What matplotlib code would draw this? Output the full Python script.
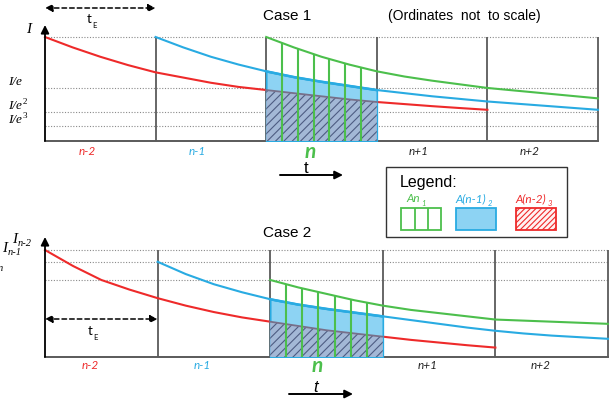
import numpy as np
import matplotlib
matplotlib.use('Agg')
import matplotlib.pyplot as plt
from matplotlib.patches import Rectangle

# ---- data (ordinates: top level I = 1, not to scale) ----
periods = ['n-2', 'n-1', 'n', 'n+1', 'n+2']
period_colors = ['#ee2a2a', '#29abe2', '#4cbf4c', '#222222', '#222222']

# values read every quarter period
q4 = [0, 0.25, 0.5, 0.75, 1, 1.25, 1.5, 1.75, 2, 2.25, 2.5, 2.75, 3, 3.25, 3.5, 3.75, 4]
q3 = [0, 0.25, 0.5, 0.75, 1, 1.25, 1.5, 1.75, 2, 2.25, 2.5, 2.75, 3]

# case 1
c1_red_t = q4
c1_red = [1.0, 0.90, 0.81, 0.73, 0.66, 0.61, 0.56, 0.52, 0.49, 0.46, 0.43, 0.40, 0.375,
          0.355, 0.335, 0.317, 0.30]
c1_blue_t = [t + 1 for t in q4]
c1_blue = [1.0, 0.90, 0.81, 0.735, 0.67, 0.615, 0.57, 0.53, 0.49, 0.46, 0.43, 0.405, 0.38,
           0.36, 0.34, 0.32, 0.30]
c1_green_t = [t + 2 for t in q3]
c1_green = [1.0, 0.90, 0.81, 0.735, 0.67, 0.62, 0.58, 0.545, 0.51, 0.485, 0.46, 0.435, 0.41]
c1_levels = [1.0, 0.508, 0.28, 0.145]
c1_level_text = ['I', 'I/e', 'I/e', 'I/e']
c1_level_sup = ['', '', '2', '3']

# case 2
c2_red_t = q4
c2_red = [1.0, 0.85, 0.72, 0.63, 0.55, 0.48, 0.42, 0.37, 0.33, 0.29, 0.25, 0.22, 0.19,
          0.16, 0.135, 0.11, 0.088]
c2_blue_t = [t + 1 for t in q4]
c2_blue = [0.89, 0.775, 0.68, 0.605, 0.54, 0.49, 0.45, 0.415, 0.38, 0.345, 0.31, 0.275,
           0.245, 0.22, 0.20, 0.185, 0.17]
c2_green_t = [t + 2 for t in q3]
c2_green = [0.72, 0.65, 0.59, 0.53, 0.48, 0.44, 0.41, 0.38, 0.35, 0.34, 0.33, 0.32, 0.31]
c2_levels = [1.0, 0.89, 0.72]
c2_level_sub = ['n-2', 'n-1', 'n']

legend_text = ['An', 'A(n-1)', 'A(n-2)']
legend_sub = ['1', '2', '3']

RED, BLUE, GREEN = '#ee2a2a', '#29abe2', '#4cbf4c'
GRID = '#8a8a8a'
BOUND = '#5a5a5a'
SANS = 'Liberation Sans'
ITAL = 'Lato'
SERIF = 'Liberation Serif'

plt.rcParams['hatch.linewidth'] = 0.8

fig = plt.figure(figsize=(6.1, 4.04), dpi=100)
W, H = 610, 404


def add_case_axes(left, right, bottom, top, top_level_px):
    ax = fig.add_axes([left / W, 1 - bottom / H, (right - left) / W, (bottom - top) / H])
    ax.set_xlim(0, 5)
    ax.set_ylim(0, (bottom - top) / (bottom - top_level_px))
    ax.set_axis_off()
    return ax


def draw_case(ax, red_t, red, blue_t, blue, green_t, green, levels, lab_off, lab_dy, n_dy):
    # dotted levels
    for lv in levels:
        ax.plot([0, 5], [lv, lv], color=GRID, lw=0.8, ls=(0, (1, 1.5)), zorder=1, clip_on=False)
    # period boundaries + baseline
    ax.vlines(range(1, 6), 0, 1.0, color=BOUND, lw=1.3, zorder=2, clip_on=False)
    ax.plot([0, 5], [0, 0], color=BOUND, lw=1.4, zorder=2, clip_on=False)
    ax.annotate('', xy=(0, ax.get_ylim()[1]), xytext=(0, 0),
                arrowprops=dict(arrowstyle='-|>', color='k', lw=1.3, mutation_scale=12,
                                shrinkA=0, shrinkB=0), zorder=8)
    # curves
    ax.plot(red_t, red, color=RED, lw=1.5, zorder=3, clip_on=False)
    ax.plot(blue_t, blue, color=BLUE, lw=1.5, zorder=6, clip_on=False)
    ax.plot(green_t, green, color=GREEN, lw=1.5, zorder=7, clip_on=False)
    # period n areas
    tn = np.linspace(2, 3, 41)
    b = np.interp(tn, blue_t, blue)
    r = np.interp(tn, red_t, red)
    ax.fill_between(tn, 0, b, facecolor='#8dd3f3', edgecolor=BLUE, lw=1.2, zorder=4)
    ax.fill_between(tn, 0, r, facecolor='#a3b8d6', edgecolor='#4e5d82', hatch='////', lw=0, zorder=5)
    ax.plot(tn, r, color='#77708a', lw=1.3, zorder=5.5)
    ax.plot(tn, b, color=BLUE, lw=1.8, zorder=6)
    gx = 2 + np.arange(1, 7) / 7
    ax.vlines(gx, 0, np.interp(gx, green_t, green), color=GREEN, lw=1.5, zorder=7)
    # period labels
    for k, (lab, col) in enumerate(zip(periods, period_colors)):
        if lab == 'n':
            ax.annotate(lab, xy=(k + lab_off + 0.02, 0), xytext=(0, -n_dy), textcoords='offset pixels',
                        ha='center', va='baseline', color=col, fontsize=15, fontweight='bold',
                        style='italic', family=ITAL)
        else:
            ax.annotate(lab, xy=(k + lab_off, 0), xytext=(0, -lab_dy), textcoords='offset pixels',
                        ha='center', va='baseline', color=col, fontsize=8.5, style='italic', family=ITAL)


# ---------------- Case 1 ----------------
ax1 = add_case_axes(45, 598, 141, 25, 37)
draw_case(ax1, c1_red_t, c1_red, c1_blue_t, c1_blue, c1_green_t, c1_green, c1_levels, 0.38, 14, 16.5)

for lv, txt, sup in zip(c1_levels, c1_level_text, c1_level_sup):
    if txt == 'I':
        ax1.annotate(txt, xy=(0, lv), xytext=(-16, 4), textcoords='offset pixels', ha='center',
                     va='baseline', fontsize=11, style='italic', family=SERIF)
    else:
        t = ax1.annotate(txt, xy=(0, lv), xytext=(-37, 3), textcoords='offset pixels', ha='left',
                         va='baseline', fontsize=9.5, style='italic', family=SERIF)
        if sup:
            ax1.annotate(sup, xy=(1, 1), xycoords=t, xytext=(0.5, 2), textcoords='offset pixels',
                         ha='left', va='top', fontsize=6.5, family=SERIF)

# ---------------- Case 2 ----------------
ax2 = add_case_axes(45, 608, 357, 237, 250)
draw_case(ax2, c2_red_t, c2_red, c2_blue_t, c2_blue, c2_green_t, c2_green, c2_levels, 0.4, 12, 15.5)

c2_label_off = [(-33, 7), (-43, 10), (-54, 12)]
for lv, sub, off in zip(c2_levels, c2_level_sub, c2_label_off):
    t = ax2.annotate('I', xy=(0, lv), xytext=off, textcoords='offset pixels', ha='left',
                     va='baseline', fontsize=11, style='italic', family=SERIF)
    ax2.annotate(sub, xy=(1, 0.2), xycoords=t, xytext=(1, 0), textcoords='offset pixels',
                 ha='left', va='center', fontsize=7.5, style='italic', family=SERIF)

# ---------------- overlay: titles, arrows, legend ----------------
ov = fig.add_axes([0, 0, 1, 1], zorder=10)
ov.set_xlim(0, W)
ov.set_ylim(H, 0)
ov.set_axis_off()

ov.text(287, 16, 'Case 1', ha='center', va='center', fontsize=11, family=SANS)
ov.text(388, 16, '(Ordinates  not  to scale)', ha='left', va='center', fontsize=10, family=SANS)
ov.text(287, 233, 'Case 2', ha='center', va='center', fontsize=11, family=SANS)

# t_E arrows (one period wide)
for ax, y, ly in [(ax1, 8, 19), (ax2, 319, 331)]:
    x0 = ax.transData.transform((0, 0))[0]
    x1 = ax.transData.transform((1, 0))[0]
    ov.annotate('', xy=(x1, y), xytext=(x0, y),
                xycoords=('figure pixels', 'data'), textcoords=('figure pixels', 'data'),
                arrowprops=dict(arrowstyle='<|-|>', color='k', lw=1.1, ls=(0, (3, 2)),
                                mutation_scale=11, shrinkA=0, shrinkB=0))
    t = ov.text((x0 + x1) / 2 - 11, ly, 't', ha='center', va='center', fontsize=9.5, family=ITAL)
    ov.annotate('E', xy=(1, 0), xycoords=t, xytext=(0.5, 0), textcoords='offset pixels',
                ha='left', va='center', fontsize=5.5, family=ITAL)

# time arrows
ov.annotate('', xy=(343, 175), xytext=(280, 175),
            arrowprops=dict(arrowstyle='-|>', color='k', lw=1.4, mutation_scale=12, shrinkA=0, shrinkB=0))
ov.text(306, 173, 't', ha='center', va='baseline', fontsize=12, family=SANS)
ov.annotate('', xy=(353, 394), xytext=(289, 394),
            arrowprops=dict(arrowstyle='-|>', color='k', lw=1.4, mutation_scale=12, shrinkA=0, shrinkB=0))
ov.text(316, 392.5, 't', ha='center', va='baseline', fontsize=12, style='italic', family=SANS)

# legend box
ov.add_patch(Rectangle((386, 167), 181, 70, fill=False, edgecolor='#333333', lw=1.0))
ov.text(400, 182, 'Legend:', ha='left', va='center', fontsize=11.5, family=SANS)
leg_cx = [413, 471, 531]
leg_cols = [GREEN, BLUE, RED]
for x, txt, sub, col in zip(leg_cx, legend_text, legend_sub, leg_cols):
    t = ov.text(x, 199, txt, ha='center', va='center', fontsize=8.5, style='italic',
                family=ITAL, color=col)
    ov.annotate(sub, xy=(1, 0.1), xycoords=t, xytext=(1, 0), textcoords='offset pixels',
                ha='left', va='center', fontsize=5.5, style='italic', family=ITAL, color=col)
ov.add_patch(Rectangle((401, 208), 40, 22, facecolor='white', edgecolor=GREEN, lw=1.3))
ov.vlines([414.5, 427.5], 208, 230, color=GREEN, lw=1.3)
ov.add_patch(Rectangle((456, 208), 40, 22, facecolor='#8dd3f3', edgecolor=BLUE, lw=1.3))
ov.add_patch(Rectangle((516, 208), 40, 22, facecolor='#fff2f2', edgecolor=RED, lw=1.3, hatch='//////'))

plt.savefig('out.png', dpi=100)
